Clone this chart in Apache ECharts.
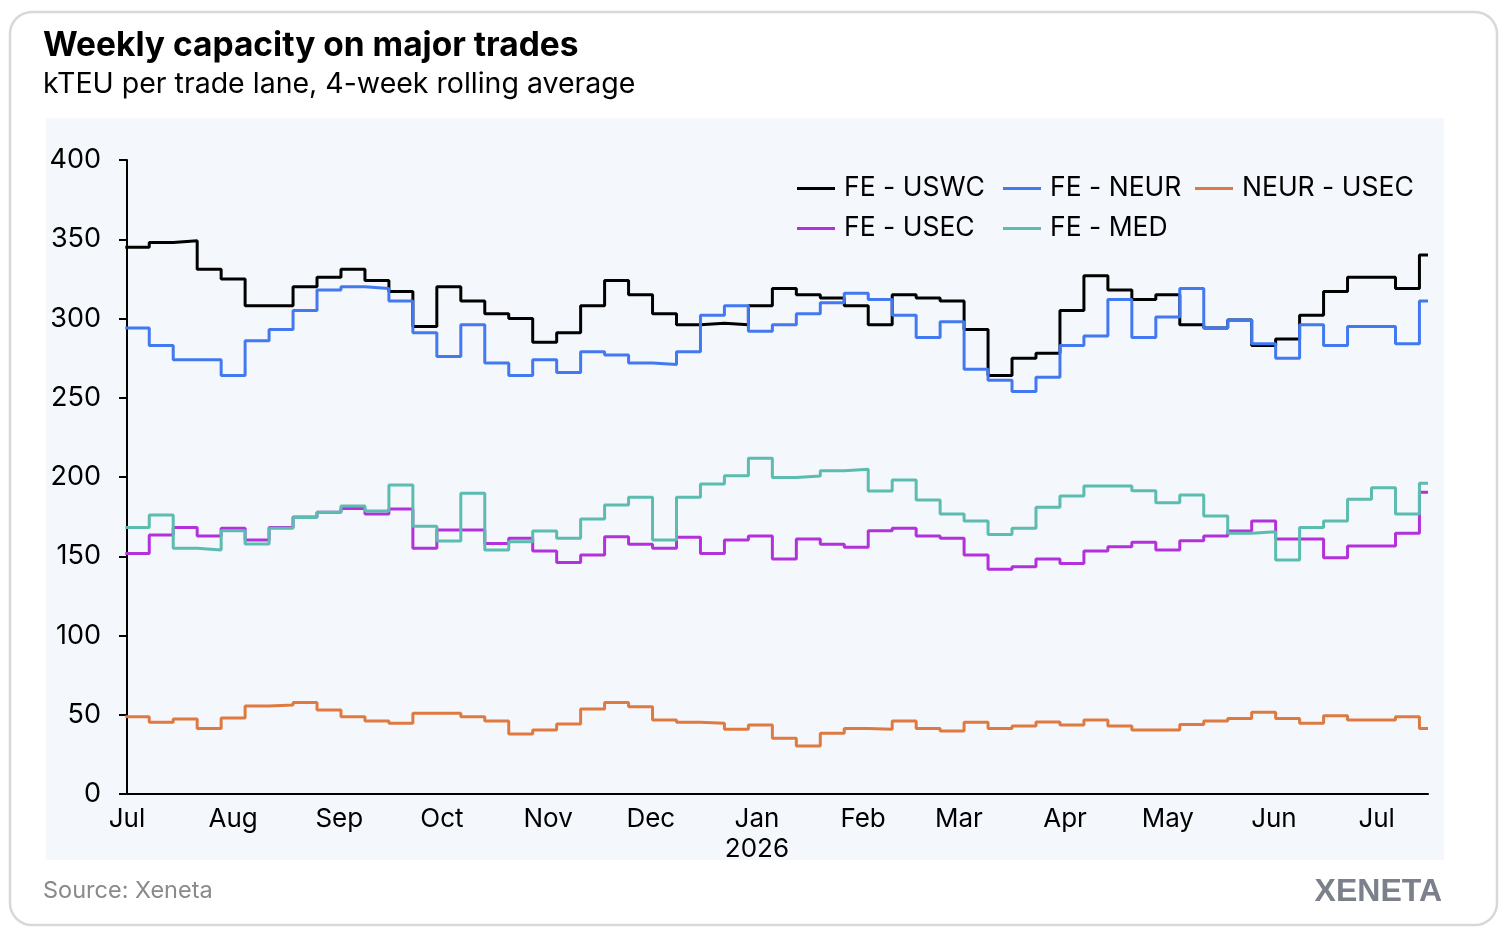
<!DOCTYPE html>
<html>
<head>
<meta charset="utf-8">
<script src="https://cdn.jsdelivr.net/npm/echarts@6/dist/echarts.min.js"></script>
<style>
  html, body { margin: 0; padding: 0; background: #fff; }
  #chart { width: 1510px; height: 940px; }
</style>
</head>
<body>
<div id="chart"></div>
<script>
// weekly data, weeks starting Monday 30 Jun 2025
const firstWeek = '2025-06-30T12:00:00';
const axisStart = '2025-07-01';
const axisEnd = '2026-07-16';
const monthNames = ['Jan','Feb','Mar','Apr','May','Jun','Jul','Aug','Sep','Oct','Nov','Dec'];

const names = ['FE - USWC', 'FE - NEUR', 'NEUR - USEC', 'FE - USEC', 'FE - MED'];
const colors = ['#000000', '#4379f0', '#de7a40', '#b331db', '#5bbcaf'];

const feUswc = [345, 348, 349, 331, 325, 308, 308, 320, 326, 331, 324, 317, 295, 320, 311, 303, 300, 285,
  291, 308, 324, 315, 303, 296, 297, 296, 308, 319, 315, 313, 308, 296, 315, 313, 311, 293,
  264, 275, 278, 305, 327, 318, 312, 315, 296, 294, 299, 283, 287, 302, 317, 326, 326, 319, 340];
const feNeur = [294, 283, 274, 274, 264, 286, 293, 305, 318, 320, 319, 311, 291, 276, 296, 272, 264, 274,
  266, 279, 277, 272, 271, 279, 302, 308, 292, 296, 303, 310, 316, 312, 302, 288, 298, 268,
  261, 254, 263, 283, 289, 312, 288, 301, 319, 294, 299, 284, 275, 296, 283, 295, 295, 284, 311];
const neurUsec = [48.8, 45.2, 47.3, 41.4, 47.9, 55.5, 56.2, 57.8, 53, 48.8, 46.1, 44.6, 50.9, 50.9, 48.8, 46.1, 37.9, 40.4,
  44.2, 53.6, 57.8, 55.1, 46.7, 45.2, 44.6, 40.8, 43.5, 35.1, 30.3, 38.3, 41.4, 40.8, 46.1, 41.4, 39.7, 45.2,
  41.4, 42.9, 45.4, 43.5, 46.7, 42.9, 40.4, 40.4, 43.9, 46.1, 47.7, 51.5, 47.7, 44.6, 49.4, 46.7, 46.7, 48.8, 41.4];
const feUsec = [151.8, 163.4, 168.2, 162.8, 167.6, 160.3, 168.2, 174.8, 177.7, 180.1, 176.7, 179.8, 155, 166.6, 166.6, 158.1, 161.3, 153.3,
  146, 150.8, 162.3, 157.5, 155, 162, 151.8, 160.3, 162.8, 148.3, 160.9, 157.5, 155.6, 166.1, 167.6, 162.8, 161.3, 150.8,
  141.8, 143.3, 148.3, 145.4, 153.3, 156, 158.8, 153.9, 159.8, 162.8, 165.9, 172.2, 160.9, 160.9, 149.1, 156.5, 156.5, 164.5, 190.3];
const feMed = [168.2, 176, 155, 154, 166.1, 157.7, 167.6, 174.5, 177.7, 181.7, 178.5, 195, 169, 159.6, 189.7, 154, 159.1, 165.9,
  161.3, 173.5, 182.3, 187.2, 160.3, 187.2, 195.6, 200.8, 211.8, 199.7, 200.6, 204, 204.9, 191.2, 198.1, 185.5, 176.7, 172.2,
  163.8, 167.6, 180.9, 188, 194.3, 194.3, 191.4, 183.8, 188.6, 175.4, 164.5, 165.5, 147.6, 168.2, 172.2, 185.9, 193.2, 176.7, 196];

const yTicks = { min: 0, max: 400, step: 50 };

const DAY = 24 * 3600 * 1000;
const t0 = new Date(firstWeek).getTime();
function toPoints(values) {
  const pts = values.map((v, i) => [t0 + i * 7 * DAY, v]);
  pts.push([new Date(axisEnd).getTime(), values[values.length - 1]]);
  return pts;
}

const allValues = [feUswc, feNeur, neurUsec, feUsec, feMed];

const chart = echarts.init(document.getElementById('chart'));
const font = 'Inter, "Noto Sans", sans-serif';

const legendPos = [[797, 175], [1003, 175], [1195, 175], [797, 215], [1003, 215]];

chart.setOption({
  backgroundColor: '#ffffff',
  textStyle: { fontFamily: font },
  title: {
    text: 'Weekly capacity on major trades',
    subtext: 'kTEU per trade lane, 4-week rolling average',
    left: 43,
    top: 29,
    padding: 0,
    itemGap: 7,
    textStyle: { fontSize: 33.5, fontWeight: 700, color: '#000', fontFamily: font },
    subtextStyle: { fontSize: 28.5, color: '#000', fontFamily: font }
  },
  graphic: [
    {
      type: 'rect', z: -20, silent: true,
      shape: { x: 10, y: 12, width: 1487, height: 913, r: 22 },
      style: { fill: '#fff', stroke: '#d8d8d8', lineWidth: 2.5 }
    },
    {
      type: 'rect', z: -10, silent: true,
      shape: { x: 46, y: 118, width: 1398, height: 742 },
      style: { fill: '#f4f7fc' }
    },
    {
      type: 'text', left: 43, top: 879, silent: true,
      style: { text: 'Source: Xeneta', fontSize: 23.5, fill: '#8a8a8a', fontFamily: font }
    },
    {
      type: 'text', right: 68, top: 876, silent: true,
      style: { text: 'XENETA', fontSize: 32, fontWeight: 'bold', fill: '#7b808b', fontFamily: '"Liberation Sans", sans-serif' }
    }
  ],
  legend: names.map((n, i) => ({
    data: [n],
    left: legendPos[i][0],
    top: legendPos[i][1],
    padding: 0,
    icon: 'rect',
    itemWidth: 38,
    itemHeight: 3,
    selectedMode: false,
    textStyle: { fontSize: 26.5, color: '#000', fontFamily: font, padding: [0, 0, 0, 4] }
  })),
  grid: { left: 127, right: 82, top: 160, bottom: 146, containLabel: false },
  xAxis: {
    type: 'time',
    min: axisStart,
    max: axisEnd,
    splitNumber: 13,
    minInterval: 28 * DAY,
    maxInterval: 31 * DAY,
    axisLine: { lineStyle: { color: '#000', width: 2 } },
    axisTick: { show: false },
    splitLine: { show: false },
    axisLabel: {
      fontSize: 26,
      color: '#000',
      margin: 10,
      lineHeight: 30,
      hideOverlap: false,
      formatter: function (val) {
        const d = new Date(val);
        const m = d.getMonth();
        return m === 0 ? monthNames[m] + '\n' + d.getFullYear() : monthNames[m];
      }
    }
  },
  yAxis: {
    type: 'value',
    min: yTicks.min,
    max: yTicks.max,
    interval: yTicks.step,
    axisLine: { show: true, lineStyle: { color: '#000', width: 2 } },
    axisTick: { show: true, length: 8, lineStyle: { color: '#000', width: 2 } },
    splitLine: { show: false },
    axisLabel: { fontSize: 27, color: '#000', margin: 26 }
  },
  series: names.map((n, i) => ({
    name: n,
    type: 'line',
    step: 'end',
    showSymbol: false,
    data: toPoints(allValues[i]),
    itemStyle: { color: colors[i] },
    lineStyle: { color: colors[i], width: 3 },
    emphasis: { disabled: true },
    animation: false
  }))
});
</script>
</body>
</html>
